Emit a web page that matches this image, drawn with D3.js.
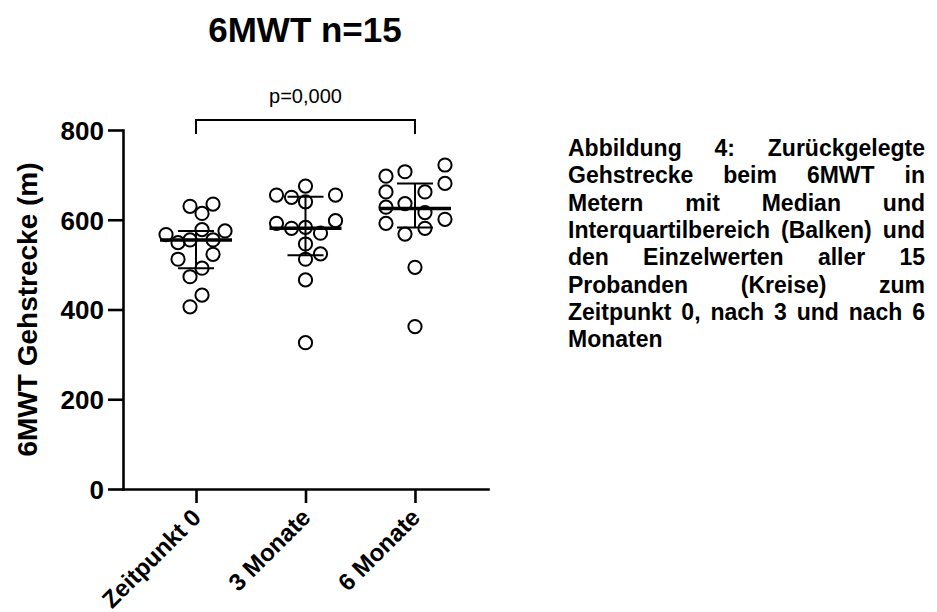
<!DOCTYPE html>
<html>
<head>
<meta charset="utf-8">
<script src="https://cdn.jsdelivr.net/npm/d3@7"></script>
<style>
body { margin: 0; background: #fff; }
svg { font-family: "Liberation Sans", Arial, sans-serif; }
</style>
</head>
<body>
<svg width="937" height="612"></svg>
<script>
// data
var categories = ["Zeitpunkt 0", "3 Monate", "6 Monate"];
var valuesT0 = [630, 614, 635, 567, 578, 575, 549, 555, 555, 512, 523, 492, 473, 432, 406];
var valuesM3 = [675, 655, 650, 640, 655, 592, 581, 583, 570, 598, 546, 524, 512, 466, 326];
var valuesM6 = [722, 707, 697, 681, 662, 662, 636, 628, 616, 601, 592, 581, 568, 494, 362];
// horizontal spread of the dots (scatter lanes, -3..3)
var laneT0 = [-0.6, 0.6, 1.7, -3, 0.6, 2.9, -1.8, -0.6, 1.7, -1.8, 1.7, 0.6, -0.6, 0.6, -0.6];
var laneM3 = [0, -2.9, -1.4, 0, 3, -2.9, -1.4, 0, 1.5, 3, 0, 1.5, 0, 0, 0];
var laneM6 = [3, -1, -2.9, 3, -2.9, 1, -1, -2.9, 1, 3, -2.9, 1, -1, 0, 0];
var medians = [555, 581, 625];
var q1 = [492, 521, 583];
var q3 = [575, 651, 681];
var yTicks = [0, 200, 400, 600, 800];
var pLabel = "p=0,000";
var captionLines = [
  "Abbildung 4: Zurückgelegte",
  "Gehstrecke beim 6MWT in",
  "Metern mit Median und",
  "Interquartilbereich (Balken) und",
  "den Einzelwerten aller 15",
  "Probanden (Kreise) zum",
  "Zeitpunkt 0, nach 3 und nach 6",
  "Monaten"
];

var groups = categories.map(function(c, i) {
  var vals = [valuesT0, valuesM3, valuesM6][i];
  var lanes = [laneT0, laneM3, laneM6][i];
  return {
    cat: c, median: medians[i], q1: q1[i], q3: q3[i],
    points: vals.map(function(v, j) { return {val: v, lane: lanes[j]}; })
  };
});

var svg = d3.select("svg");
var plotLeft = 123, plotRight = 488, plotTop = 130, plotBottom = 489;

var x = d3.scalePoint().domain(categories).range([plotLeft, plotRight]).padding(0.667);
var y = d3.scaleLinear().domain([0, 800]).range([plotBottom, plotTop]);
var lane = d3.scaleLinear().domain([-3, 3]).range([-30, 30]);

// title
svg.append("text")
  .attr("x", 305).attr("y", 42)
  .attr("text-anchor", "middle")
  .style("font-size", "35px").style("font-weight", "bold")
  .text("6MWT n=15");

// axes
var yAxis = svg.append("g")
  .attr("transform", "translate(" + plotLeft + ",0)")
  .call(d3.axisLeft(y).tickValues(yTicks).tickSize(15).tickPadding(4).tickSizeOuter(0));

var xAxis = svg.append("g")
  .attr("transform", "translate(0," + plotBottom + ")")
  .call(d3.axisBottom(x).tickSize(14).tickSizeOuter(0));

[yAxis, xAxis].forEach(function(a) {
  a.selectAll("path, line").attr("stroke", "#000").attr("stroke-width", 2.6);
  a.select(".domain").attr("stroke-linecap", "square");
});

yAxis.selectAll("text")
  .attr("fill", "#000")
  .style("font-size", "26px").style("font-weight", "bold")
  .attr("dy", "0.36em");

xAxis.selectAll("text")
  .attr("fill", "#000")
  .style("font-size", "24px").style("font-weight", "bold")
  .attr("text-anchor", "end")
  .attr("dy", null)
  .attr("y", 0)
  .attr("transform", "translate(6,30) rotate(-45)");

// y axis title
svg.append("text")
  .attr("transform", "translate(37," + ((plotTop + plotBottom) / 2) + ") rotate(-90)")
  .attr("text-anchor", "middle")
  .style("font-size", "28px").style("font-weight", "bold")
  .text("6MWT Gehstrecke (m)");

// individual values
var g = svg.selectAll(".grp").data(groups).enter().append("g").attr("class", "grp");

g.selectAll("circle")
  .data(function(d) { return d.points.map(function(p) { return {cat: d.cat, val: p.val, lane: p.lane}; }); })
  .enter().append("circle")
  .attr("cx", function(d) { return x(d.cat) + lane(d.lane); })
  .attr("cy", function(d) { return y(d.val); })
  .attr("r", 6.6)
  .attr("fill", "none")
  .attr("stroke", "#000")
  .attr("stroke-width", 2);

// median + IQR
g.append("line")
  .attr("x1", function(d) { return x(d.cat); }).attr("x2", function(d) { return x(d.cat); })
  .attr("y1", function(d) { return y(d.q1); }).attr("y2", function(d) { return y(d.q3); })
  .attr("stroke", "#000").attr("stroke-width", 2);
["q1", "q3"].forEach(function(k) {
  g.append("line")
    .attr("x1", function(d) { return x(d.cat) - 18; }).attr("x2", function(d) { return x(d.cat) + 18; })
    .attr("y1", function(d) { return y(d[k]); }).attr("y2", function(d) { return y(d[k]); })
    .attr("stroke", "#000").attr("stroke-width", 2);
});
g.append("line")
  .attr("x1", function(d) { return x(d.cat) - 36; }).attr("x2", function(d) { return x(d.cat) + 36; })
  .attr("y1", function(d) { return y(d.median); }).attr("y2", function(d) { return y(d.median); })
  .attr("stroke", "#000").attr("stroke-width", 3.6);

// significance bracket
var xa = x(categories[0]), xb = x(categories[2]);
svg.append("path")
  .attr("d", "M" + xa + ",134V120H" + xb + "V134")
  .attr("fill", "none").attr("stroke", "#000").attr("stroke-width", 2);
svg.append("text")
  .attr("x", (xa + xb) / 2).attr("y", 103)
  .attr("text-anchor", "middle")
  .style("font-size", "20px")
  .text(pLabel);

// caption, justified
var capLeft = 568, capRight = 925, capTop = 156, capLead = 27.3;
var cap = svg.append("g").style("font-size", "23px").style("font-weight", "bold");
captionLines.forEach(function(line, i) {
  var words = line.split(" ");
  var yy = capTop + i * capLead;
  var texts = words.map(function(w) { return cap.append("text").attr("y", yy).text(w); });
  var widths = texts.map(function(t) { return t.node().getComputedTextLength(); });
  var last = i === captionLines.length - 1;
  var gap = (!last && words.length > 1)
    ? (capRight - capLeft - d3.sum(widths)) / (words.length - 1)
    : 6.4;
  var cx = capLeft;
  texts.forEach(function(t, j) {
    t.attr("x", cx);
    cx += widths[j] + gap;
  });
});
</script>
</body>
</html>
